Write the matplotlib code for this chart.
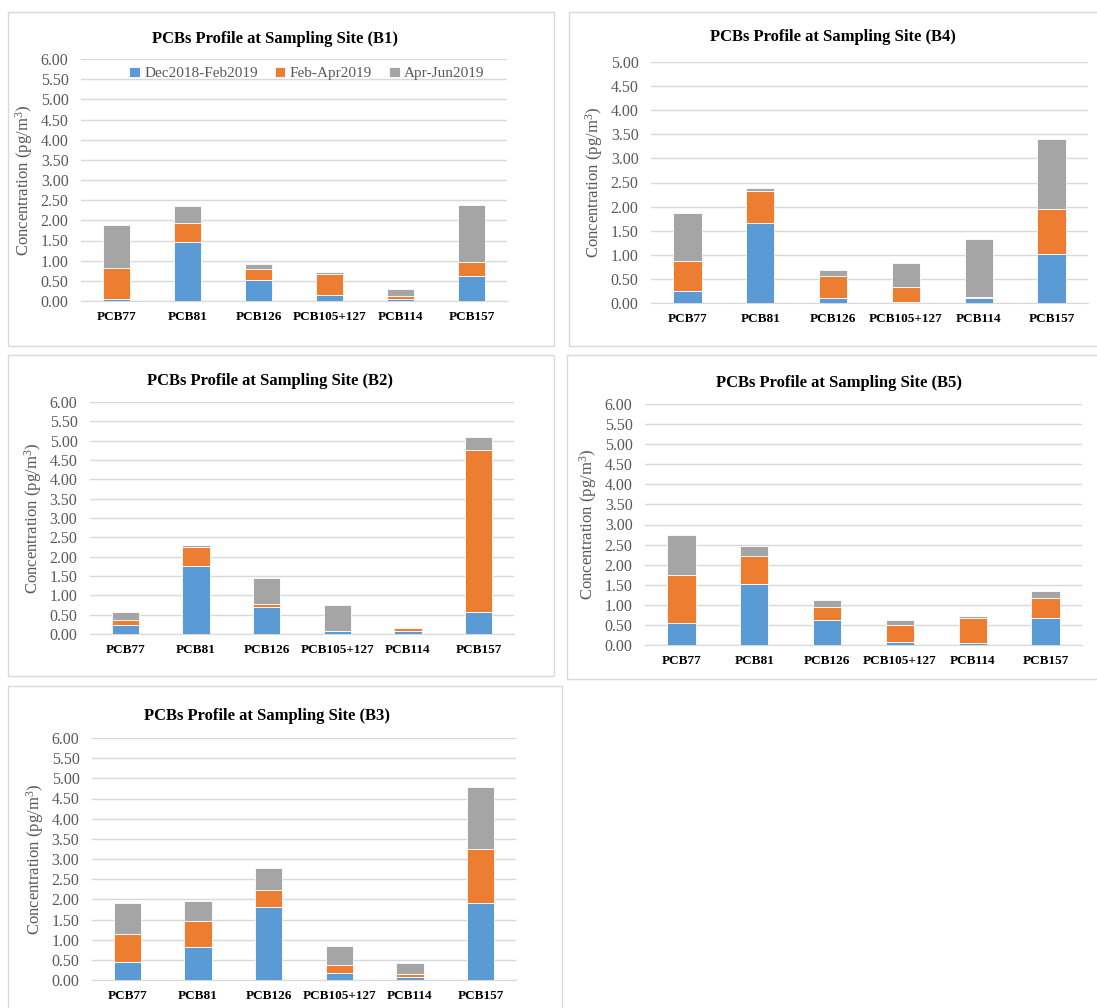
import matplotlib
matplotlib.use("Agg")
import matplotlib.pyplot as plt
from matplotlib.patches import Rectangle
import numpy as np

plt.rcParams['font.family'] = ['Liberation Serif', 'DejaVu Serif']
plt.rcParams['mathtext.fontset'] = 'custom'
plt.rcParams['mathtext.rm'] = 'Liberation Serif'
plt.rcParams['mathtext.it'] = 'Liberation Serif:italic'

congeners = ["PCB77", "PCB81", "PCB126", "PCB105+127", "PCB114", "PCB157"]
periods = ["Dec2018-Feb2019", "Feb-Apr2019", "Apr-Jun2019"]
colors = ["#5B9BD5", "#ED7D31", "#A5A5A5"]

# concentrations (pg/m3) per congener, one list per sampling period
b1_dec = [0.05, 1.46, 0.52, 0.15, 0.06, 0.62]
b1_feb = [0.77, 0.47, 0.28, 0.51, 0.06, 0.34]
b1_apr = [1.07, 0.42, 0.12, 0.06, 0.18, 1.43]

b4_dec = [0.24, 1.66, 0.10, 0.03, 0.10, 1.01]
b4_feb = [0.64, 0.67, 0.45, 0.31, 0.02, 0.93]
b4_apr = [0.98, 0.06, 0.13, 0.48, 1.20, 1.46]

b2_dec = [0.22, 1.77, 0.71, 0.07, 0.07, 0.57]
b2_feb = [0.13, 0.47, 0.06, 0.02, 0.08, 4.20]
b2_apr = [0.22, 0.06, 0.68, 0.65, 0.02, 0.32]

b5_dec = [0.55, 1.52, 0.61, 0.07, 0.05, 0.66]
b5_feb = [1.20, 0.70, 0.33, 0.44, 0.61, 0.51]
b5_apr = [0.99, 0.24, 0.19, 0.10, 0.05, 0.18]

b3_dec = [0.44, 0.81, 1.80, 0.18, 0.07, 1.91]
b3_feb = [0.69, 0.66, 0.44, 0.18, 0.07, 1.34]
b3_apr = [0.77, 0.50, 0.54, 0.49, 0.29, 1.53]

W, H = 1097, 1008
fig = plt.figure(figsize=(W / 100, H / 100), dpi=100)


def frame(x0, y0, x1, y1):
    fig.patches.append(Rectangle((x0 / W, 1 - y1 / H), (x1 - x0) / W, (y1 - y0) / H,
                                 transform=fig.transFigure, fill=False,
                                 edgecolor="#D9D9D9", lw=1.0))


def panel(site, box, area, title_xy, series, ymax, legend=False):
    frame(*box)
    left, top, right, bottom = area
    ax = fig.add_axes([left / W, 1 - bottom / H, (right - left) / W, (bottom - top) / H])
    x = np.arange(len(congeners))
    base = np.zeros(len(congeners))
    for vals, c, lab in zip(series, colors, periods):
        ax.bar(x, vals, 0.39, bottom=base, color=c, edgecolor="white", linewidth=0.6,
               label=lab, zorder=3)
        base = base + np.array(vals)
    ticks = np.arange(0, ymax + 0.01, 0.5)
    ax.set_xlim(-0.5, len(congeners) - 0.5)
    ax.set_ylim(0, ymax)
    ax.set_yticks(ticks)
    ax.set_yticklabels(["%.2f" % v for v in ticks])
    ax.set_xticks(x)
    ax.set_xticklabels(congeners, fontweight="bold", fontsize=9.5, color="black")
    ax.tick_params(axis="y", length=0, labelsize=11.5, labelcolor="#595959", pad=9)
    ax.tick_params(axis="x", length=0, pad=7)
    ax.grid(axis="y", color="#D9D9D9", lw=1.0, zorder=0)
    for s in ["top", "right", "left"]:
        ax.spines[s].set_visible(False)
    ax.spines["bottom"].set_color("#D9D9D9")
    ax.set_ylabel("Concentration (pg/m$^{3}$)", fontsize=12, color="#595959", labelpad=4)
    fig.text(title_xy[0] / W, 1 - title_xy[1] / H,
             "PCBs Profile at Sampling Site (%s)" % site,
             fontsize=12, fontweight="bold", ha="center", va="center")
    if legend:
        ax.legend(loc="upper center", bbox_to_anchor=(0.53, 1.0), ncol=3, frameon=False,
                  fontsize=11, labelcolor="#595959", handlelength=0.7, handleheight=0.7,
                  handletextpad=0.3, columnspacing=1.1, borderaxespad=0.1)
    return ax


panel("B1", (8, 12, 554, 346), (81, 59, 507, 301), (275, 39),
      [b1_dec, b1_feb, b1_apr], 6, legend=True)
panel("B4", (569, 12, 1100, 346), (651, 62, 1088, 303), (833, 37),
      [b4_dec, b4_feb, b4_apr], 5)
panel("B2", (8, 355, 554, 676), (90, 402, 514, 634), (270, 381),
      [b2_dec, b2_feb, b2_apr], 6)
panel("B5", (567, 355, 1100, 679), (645, 404, 1082, 645), (839, 383),
      [b5_dec, b5_feb, b5_apr], 6)
panel("B3", (8, 686, 562, 1012), (92, 738, 516, 980), (267, 716),
      [b3_dec, b3_feb, b3_apr], 6)

fig.savefig("out.png", dpi=100, facecolor="white")
